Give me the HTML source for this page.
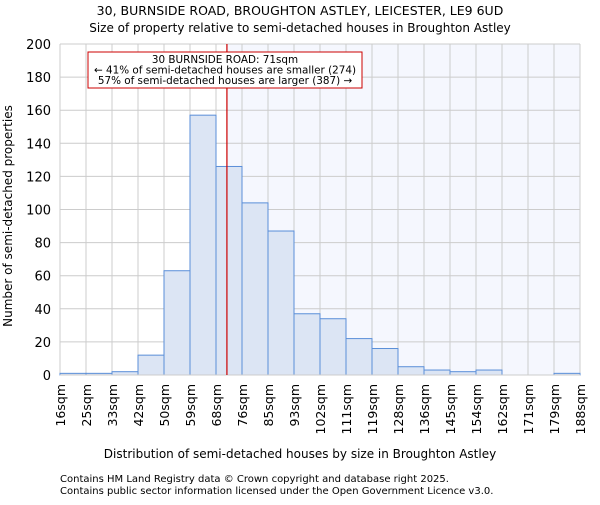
<!DOCTYPE html>
<html><head><meta charset="utf-8"><style>body{margin:0;background:#fff}svg{font-family:"DejaVu Sans","Liberation Sans",sans-serif}</style></head>
<body>
<svg id="c" width="600" height="500" xmlns="http://www.w3.org/2000/svg">
<text x="300" y="15" text-anchor="middle" font-size="12.5">30, BURNSIDE ROAD, BROUGHTON ASTLEY, LEICESTER, LE9 6UD</text>
<text x="300" y="32" text-anchor="middle" font-size="12">Size of property relative to semi-detached houses in Broughton Astley</text>
<g id="plot"></g>
<text x="300" y="458" text-anchor="middle" font-size="12">Distribution of semi-detached houses by size in Broughton Astley</text>
<text transform="translate(12,216) rotate(-90)" text-anchor="middle" font-size="12">Number of semi-detached properties</text>
<text x="60" y="482" font-size="10">Contains HM Land Registry data © Crown copyright and database right 2025.</text>
<text x="60" y="494" font-size="10">Contains public sector information licensed under the Open Government Licence v3.0.</text>
</svg>
<script>
const binLabels=["16sqm","25sqm","33sqm","42sqm","50sqm","59sqm","68sqm","76sqm","85sqm","93sqm","102sqm","111sqm","119sqm","128sqm","136sqm","145sqm","154sqm","162sqm","171sqm","179sqm","188sqm"];
const counts=[1,1,2,12,63,157,126,104,87,37,34,22,16,5,3,2,3,0,0,1];
const yTicks=[0,20,40,60,80,100,120,140,160,180,200];
const markerBin=6.42;
const L=60,R=580,T=44,B=375,yMax=200;
const NS="http://www.w3.org/2000/svg",g=document.getElementById('plot');
const bw=(R-L)/counts.length;
const x=i=>L+i*bw, y=v=>B-(v/yMax)*(B-T);
function mk(t,a){const e=document.createElementNS(NS,t);for(const k in a)e.setAttribute(k,a[k]);g.appendChild(e);return e;}
let e=mk('rect',{x:x(markerBin),y:T,width:R-x(markerBin),height:B-T,fill:'#f5f7fe'});


yTicks.forEach(v=>{let l=mk('line',{x1:L,x2:R,y1:y(v),y2:y(v),stroke:'#ccc'});


let t=mk('text',{x:L-9,y:y(v)+5,'text-anchor':'end','font-size':'13'});t.textContent=v;

});
binLabels.forEach((s,i)=>{let l=mk('line',{x1:x(i),x2:x(i),y1:T,y2:B,stroke:'#ccc'});


let t=mk('text',{transform:`translate(${x(i)+5},384) rotate(-90)`,'text-anchor':'end','font-size':'12.5'});t.textContent=s;

});
counts.forEach((v,i)=>{if(v<=0)return;let r=mk('rect',{x:x(i),y:y(v),width:bw,height:B-y(v),fill:'#dce5f4',stroke:'#5a8ed8','stroke-width':1});

});
e=mk('line',{x1:L,x2:R,y1:B,y2:B,stroke:'#ccc'});


e=mk('line',{x1:x(markerBin),x2:x(markerBin),y1:T,y2:B,stroke:'#cc0000','stroke-width':1.2});


e=mk('rect',{x:88,y:52,width:274,height:36,fill:'#fff',stroke:'#cc0000'});


["30 BURNSIDE ROAD: 71sqm","← 41% of semi-detached houses are smaller (274)","57% of semi-detached houses are larger (387) →"].forEach((s,i)=>{let t=mk('text',{x:225,y:63+i*10.5,'text-anchor':'middle','font-size':'10.4'});t.textContent=s;

});
</script>
</body></html>
